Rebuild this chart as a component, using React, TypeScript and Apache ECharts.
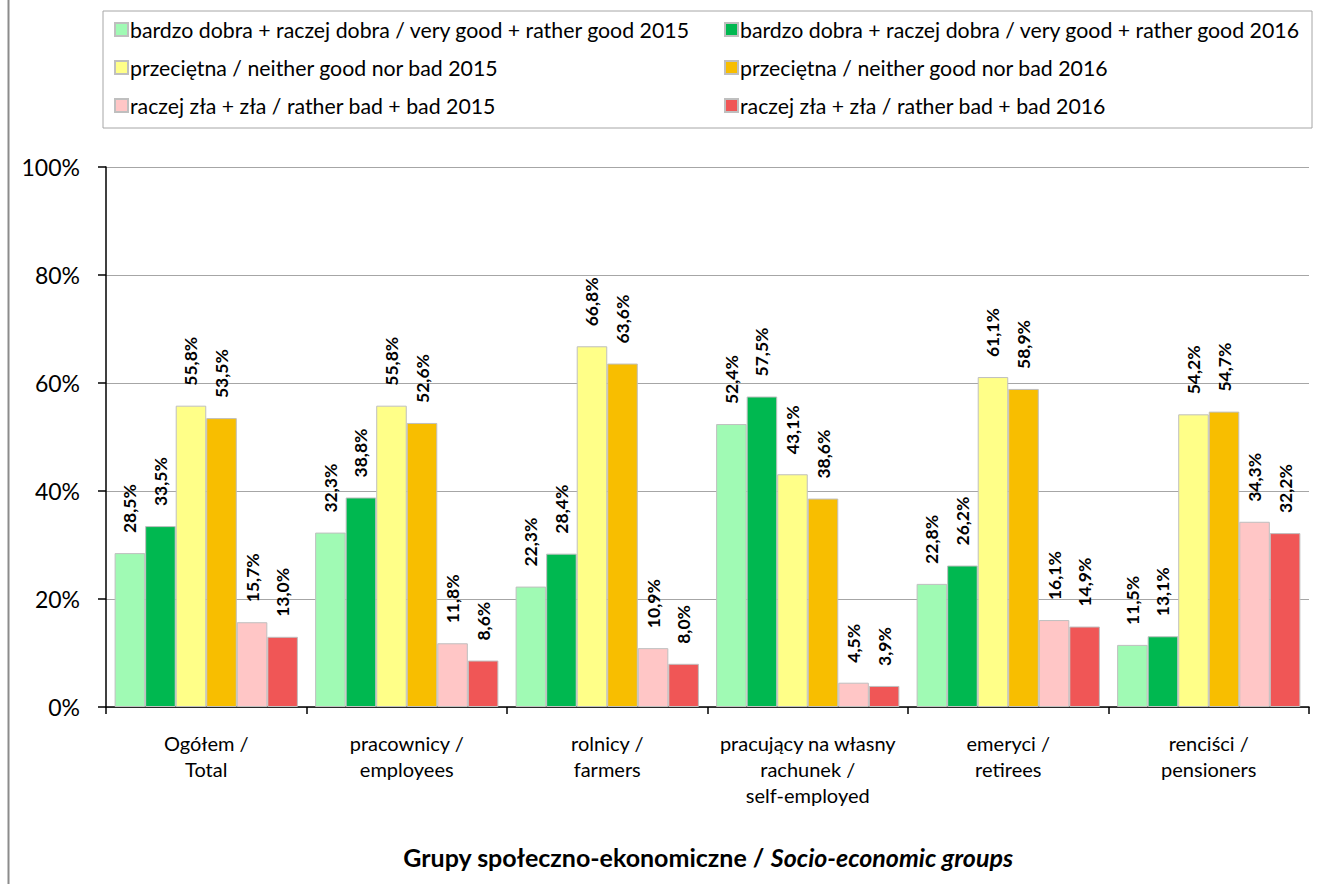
import React, { useEffect, useRef } from "react";
import * as echarts from "echarts";

const categories = [
  "Ogółem /\nTotal",
  "pracownicy /\nemployees",
  "rolnicy /\nfarmers",
  "pracujący na własny\nrachunek /\nself-employed",
  "emeryci /\nretirees",
  "renciści /\npensioners",
];

const seriesNames = [
  "bardzo dobra + raczej dobra / very good + rather good 2015",
  "bardzo dobra + raczej dobra / very good + rather good 2016",
  "przeciętna / neither good nor bad 2015",
  "przeciętna / neither good nor bad 2016",
  "raczej zła + zła / rather bad + bad 2015",
  "raczej zła + zła / rather bad + bad 2016",
];

const good2015 = [28.5, 32.3, 22.3, 52.4, 22.8, 11.5];
const good2016 = [33.5, 38.8, 28.4, 57.5, 26.2, 13.1];
const neutral2015 = [55.8, 55.8, 66.8, 43.1, 61.1, 54.2];
const neutral2016 = [53.5, 52.6, 63.6, 38.6, 58.9, 54.7];
const bad2015 = [15.7, 11.8, 10.9, 4.5, 16.1, 34.3];
const bad2016 = [13.0, 8.6, 8.0, 3.9, 14.9, 32.2];

const seriesValues = [good2015, good2016, neutral2015, neutral2016, bad2015, bad2016];
const colors = ["#A0FAB4", "#00B850", "#FFFF88", "#F8BE00", "#FFC6C6", "#F05656"];

const yTicks = [0, 20, 40, 60, 80, 100];

const FONT = "Lato, 'Open Sans', sans-serif";

export default function App() {
  const ref = useRef<HTMLDivElement>(null);
  useEffect(() => {
    if (!ref.current) return;
    const chart = echarts.init(ref.current, undefined, { renderer: "svg" });
    const legendText = { fontSize: 21.3, fontFamily: FONT, color: "#000", padding: [0, 0, 0, -3] };
    const option: any = {
      animation: false,
      backgroundColor: "#ffffff",
      textStyle: { fontFamily: FONT, color: "#000" },
      legend: [
        {
          data: [seriesNames[0], seriesNames[2], seriesNames[4]],
          orient: "vertical",
          left: 109,
          top: 14,
          itemWidth: 13,
          itemHeight: 13,
          itemGap: 17,
          textStyle: legendText,
          icon: "rect",
        },
        {
          data: [seriesNames[1], seriesNames[3], seriesNames[5]],
          orient: "vertical",
          left: 719,
          top: 14,
          itemWidth: 13,
          itemHeight: 13,
          itemGap: 17,
          textStyle: legendText,
          icon: "rect",
        },
      ],
      graphic: [
        {
          type: "rect",
          shape: { x: 103, y: 11, width: 1209, height: 117 },
          style: { fill: "none", stroke: "#A6A6A6", lineWidth: 1 },
          silent: true,
        },
        {
          type: "line",
          shape: { x1: 8.5, y1: 0, x2: 8.5, y2: 884 },
          style: { stroke: "#8C8C8C", lineWidth: 2 },
          silent: true,
        },
        {
          type: "text",
          x: 708,
          y: 857,
          style: {
            text: "{a|Grupy społeczno-ekonomiczne / }{b|Socio-economic groups}",
            align: "center",
            verticalAlign: "middle",
            rich: {
              a: { fontSize: 25, fontWeight: "bold", fontFamily: FONT, fill: "#000" },
              b: { fontSize: 25, fontWeight: "bold", fontStyle: "italic", fontFamily: FONT, fill: "#000" },
            },
          },
        },
      ],
      grid: { left: 106, right: 8, top: 167, bottom: 177, containLabel: false },
      xAxis: {
        type: "category",
        data: categories,
        axisLine: { lineStyle: { color: "#000", width: 1.5 } },
        axisTick: { show: true, interval: 0, length: 7, lineStyle: { color: "#000", width: 1.5 } },
        axisLabel: { interval: 0, fontSize: 20, fontFamily: FONT, color: "#000", lineHeight: 26, margin: 23 },
      },
      yAxis: {
        type: "value",
        min: 0,
        max: 100,
        interval: 20,
        axisLine: { show: true, lineStyle: { color: "#000", width: 1.5 } },
        axisTick: { show: true, length: 8, lineStyle: { color: "#000", width: 1.5 } },
        splitLine: { lineStyle: { color: "#A6A6A6", width: 1 } },
        axisLabel: {
          fontSize: 23,
          fontFamily: FONT,
          color: "#000",
          margin: 26,
          formatter: (v: number) => (yTicks.includes(v) ? `${v}%` : ""),
        },
      },
      series: seriesValues.map((vals, i) => ({
        name: seriesNames[i],
        type: "bar",
        data: vals,
        barGap: "0%",
        barCategoryGap: "8.6%",
        itemStyle: { color: colors[i], borderColor: "#BFBFBF", borderWidth: 1 },
        label: {
          show: true,
          position: "top",
          rotate: 90,
          align: "left",
          verticalAlign: "middle",
          distance: 20,
          fontSize: 17.5,
          fontWeight: "bold",
          fontFamily: FONT,
          color: "#000",
          formatter: (p: any) => `${p.value.toFixed(1).replace(".", ",")}%`,
        },
      })),
    };
    chart.setOption(option);
    return () => chart.dispose();
  }, []);
  return <div ref={ref} style={{ width: 1317, height: 884, position: "absolute", left: 0, top: 0 }} />;
}
